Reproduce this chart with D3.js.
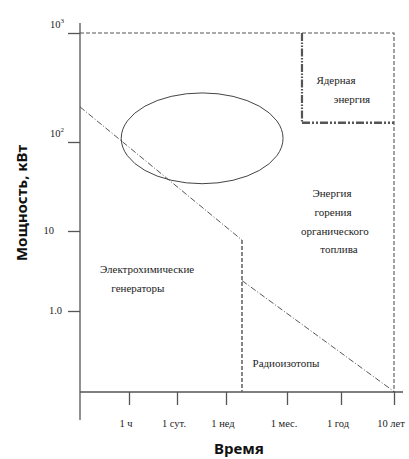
<!DOCTYPE html>
<html>
<head>
<meta charset="utf-8">
<script src="https://cdn.jsdelivr.net/npm/d3@7/dist/d3.min.js"></script>
<style>
  html, body { margin: 0; padding: 0; background: #fff; }
  svg { display: block; }
</style>
</head>
<body>
<svg id="chart" width="409" height="459"></svg>
<script>
// Time axis (hours) and its labels
const timeTicks = [1, 24, 168, 720, 8760, 87600];
const timeLabels = ["1 ч", "1 сут.", "1 нед", "1 мес.", "1 год", "10 лет"];
// Power axis (kW) and its labels
const powerTicks = [1000, 100, 10, 1];
const powerLabels = [["10", "3"], ["10", "2"], ["10", ""], ["1.0", ""]];

// Region boundaries: [hours, kW] pairs
const fuelBoundary = [[0.04, 1000], [87600, 1000], [87600, 0.1]];
const nuclearBoundaryV = [[1440, 1000], [1440, 150]];
const nuclearBoundaryH = [[1440, 150], [87600, 150]];
const chemBoundary = [[0.04, 210], [246, 7.7]];
const isotopeBoundaryV = [[246, 7.7], [246, 0.1]];
const isotopeBoundary = [[246, 2.4], [90000, 0.1]];
// Oval region: hours span and kW span
const ovalHours = [0.6, 655];
const ovalPower = [34, 282];

// Region labels: text, hours, kW
const regionLabels = [
  ["Ядерная", 6950, 340],
  ["энергия", 14100, 228],
  ["Энергия", 5770, 24.1],
  ["горения", 6050, 14.7],
  ["органического", 6630, 8.9],
  ["топлива", 7980, 5.3],
  ["Электрохимические", 3.3, 2.99],
  ["генераторы", 1.8, 1.73],
  ["Радиоизотопы", 703, 0.204]
];

const SERIF = '"Liberation Serif", "DejaVu Serif", "Noto Serif", "Times New Roman", serif';
const SANS = '"Noto Sans", "Lato", sans-serif';

const svg = d3.select("#chart");

// Hand-spaced axes: piecewise log scales
const x = d3.scaleLog()
  .domain([0.04, 1, 24, 168, 720, 8760, 87600])
  .range([80, 129, 177, 226, 287, 341, 394]);
const y = d3.scaleLog()
  .domain([0.1, 1, 10, 100, 1000])
  .range([392, 311, 231, 142, 33]);

const axisColor = "#555";
const lineColor = "#444";

// Axis lines
svg.append("line")
  .attr("x1", x(0.04)).attr("x2", x(0.04))
  .attr("y1", y(1235)).attr("y2", y(0.045))
  .attr("stroke", axisColor).attr("stroke-width", 1.3);
svg.append("line")
  .attr("x1", x(0.04)).attr("x2", x(129600))
  .attr("y1", y(0.1)).attr("y2", y(0.1))
  .attr("stroke", axisColor).attr("stroke-width", 1.3);

// Y ticks
const gy = svg.append("g")
  .attr("transform", `translate(${x(0.04)},0)`)
  .call(d3.axisLeft(y).tickValues(powerTicks).tickSize(12).tickFormat(""));
gy.select(".domain").remove();
gy.selectAll(".tick line").attr("stroke", axisColor).attr("stroke-width", 1.3);

// Y tick labels (powers of ten sit above their ticks)
powerTicks.forEach((v, i) => {
  const lift = v >= 100 ? -5 : 3;
  const t = svg.append("text")
    .attr("font-family", SERIF).attr("fill", "#222")
    .attr("x", v >= 100 ? 64 : (v === 1 ? 62 : 54))
    .attr("y", y(v) + lift)
    .attr("text-anchor", "end")
    .attr("font-size", 10.5);
  t.append("tspan").text(powerLabels[i][0]);
  if (powerLabels[i][1]) {
    t.append("tspan").attr("dy", -5).attr("font-size", 7).text(powerLabels[i][1]);
  }
});

// X ticks
const gx = svg.append("g")
  .attr("transform", `translate(0,${y(0.1)})`)
  .call(d3.axisBottom(x).tickValues(timeTicks).tickSize(13).tickFormat(""));
gx.select(".domain").remove();
gx.selectAll(".tick line").attr("stroke", axisColor).attr("stroke-width", 1.3);

timeTicks.forEach((v, i) => {
  svg.append("text")
    .attr("font-family", SERIF).attr("fill", "#222")
    .attr("x", x(v) - 3)
    .attr("y", 427)
    .attr("text-anchor", "middle")
    .attr("font-size", 10.5)
    .text(timeLabels[i]);
});

const line = d3.line().x(d => x(d[0])).y(d => y(d[1]));

// Fossil-fuel envelope (dashed)
svg.append("path").attr("d", line(fuelBoundary))
  .attr("fill", "none").attr("stroke", "#555")
  .attr("stroke-width", 1.1).attr("stroke-dasharray", "4,2");

// Nuclear region (heavy dash-dot)
svg.append("path").attr("d", line(nuclearBoundaryV))
  .attr("fill", "none").attr("stroke", "#555")
  .attr("stroke-width", 2.2).attr("stroke-dasharray", "8,1.5,1.5,1.5,1.5,1.5");
svg.append("path").attr("d", line(nuclearBoundaryH))
  .attr("fill", "none").attr("stroke", "#555")
  .attr("stroke-width", 2.4).attr("stroke-dasharray", "8,2,2,2,2,2");

// Electrochemical upper limit (dash-dot)
svg.append("path").attr("d", line(chemBoundary))
  .attr("fill", "none").attr("stroke", lineColor)
  .attr("stroke-width", 0.9).attr("stroke-dasharray", "6,2,1,2");

// Radioisotope boundary (dashed vertical + dash-dot slope)
svg.append("path").attr("d", line(isotopeBoundaryV))
  .attr("fill", "none").attr("stroke", "#666")
  .attr("stroke-width", 1.6).attr("stroke-dasharray", "4,2");
svg.append("path").attr("d", line(isotopeBoundary))
  .attr("fill", "none").attr("stroke", lineColor)
  .attr("stroke-width", 0.9).attr("stroke-dasharray", "6,2,1,2");

// Oval region
const ox0 = x(ovalHours[0]), ox1 = x(ovalHours[1]);
const oy0 = y(ovalPower[1]), oy1 = y(ovalPower[0]);
svg.append("ellipse")
  .attr("cx", (ox0 + ox1) / 2).attr("cy", (oy0 + oy1) / 2)
  .attr("rx", (ox1 - ox0) / 2).attr("ry", (oy1 - oy0) / 2)
  .attr("fill", "none").attr("stroke", "#444").attr("stroke-width", 1);

// Region labels
svg.selectAll(".region").data(regionLabels).enter().append("text")
  .attr("class", "region")
  .attr("font-family", SERIF).attr("fill", "#222")
  .attr("x", d => x(d[1]))
  .attr("y", d => y(d[2]))
  .attr("text-anchor", "middle")
  .attr("font-size", 11)
  .text(d => d[0]);

// Axis titles
svg.append("text")
  .attr("font-family", SANS).attr("font-weight", 700).attr("fill", "#111")
  .attr("transform", "translate(27,203) rotate(-90)")
  .attr("text-anchor", "middle")
  .attr("font-size", 15)
  .text("Мощность, кВт");
svg.append("text")
  .attr("font-family", SANS).attr("font-weight", 700).attr("fill", "#111")
  .attr("x", 239).attr("y", 454)
  .attr("text-anchor", "middle")
  .attr("font-size", 15)
  .text("Время");
</script>
</body>
</html>
